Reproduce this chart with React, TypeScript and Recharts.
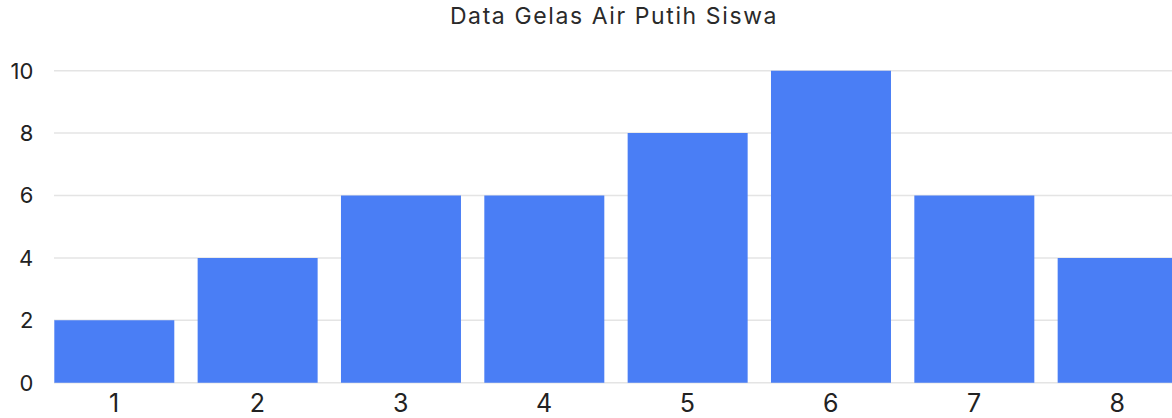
import React from 'react';
import { BarChart, Bar, XAxis, YAxis, CartesianGrid } from 'recharts';

const categories = ['1', '2', '3', '4', '5', '6', '7', '8'];
const glasses = [2, 4, 6, 6, 8, 10, 6, 4];
const yTicks = [0, 2, 4, 6, 8, 10];

const data = categories.map((c, i) => ({ name: c, value: glasses[i] }));

const FONT = 'Inter, "Open Sans", sans-serif';

export default function App() {
  return (
    <div
      style={{
        position: 'absolute',
        top: 0,
        left: 0,
        width: 1172,
        height: 418,
        overflow: 'hidden',
        background: '#fff',
      }}
    >
      <div
        style={{
          position: 'absolute',
          top: 2,
          left: 0,
          width: 1228,
          textAlign: 'center',
          fontFamily: FONT,
          fontSize: 23,
          letterSpacing: 1.6,
          color: '#2a2a2a',
        }}
      >
        Data Gelas Air Putih Siswa
      </div>
      <BarChart
        width={1200}
        height={418}
        data={data}
        margin={{ top: 70.7, right: 11, left: 0, bottom: 0.3 }}
      >
        <CartesianGrid
          vertical={false}
          stroke="#e4e4e4"
          strokeWidth={1.5}
          x={54}
          width={1135}
        />
        <XAxis
          dataKey="name"
          height={35}
          axisLine={false}
          tickLine={false}
          tickSize={0}
          tickMargin={12}
          tick={{ fill: '#222', fontSize: 25, fontFamily: FONT }}
        />
        <YAxis
          width={42.3}
          domain={[0, 10]}
          ticks={yTicks}
          axisLine={false}
          tickLine={false}
          tickSize={0}
          tickMargin={9}
          tick={{ fill: '#222', fontSize: 22, fontFamily: FONT }}
        />
        <Bar dataKey="value" fill="#4a7ef5" barSize={120} isAnimationActive={false} />
      </BarChart>
    </div>
  );
}
